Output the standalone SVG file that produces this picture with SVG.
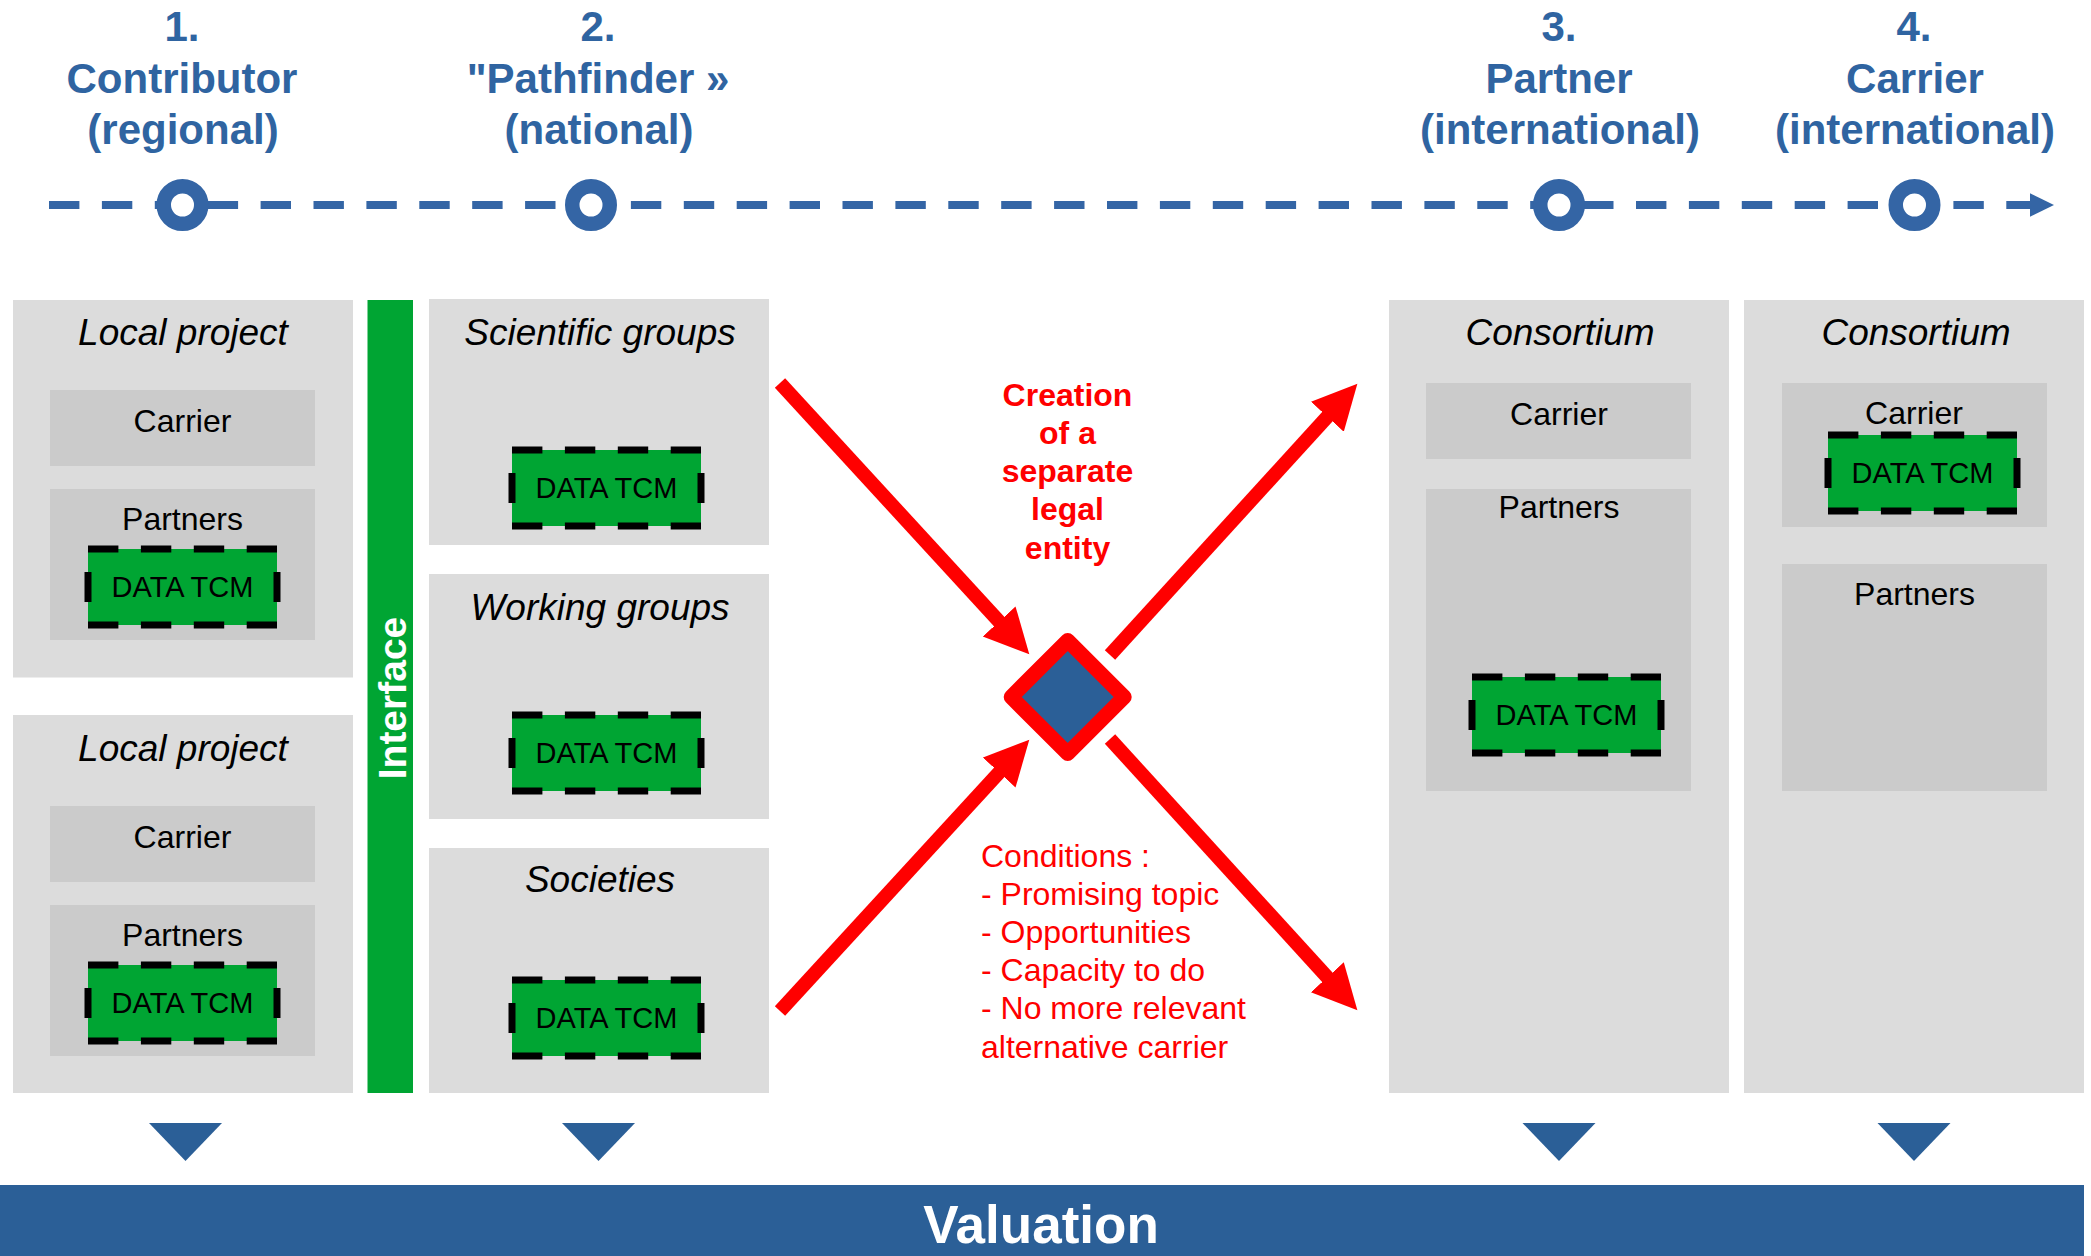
<svg xmlns="http://www.w3.org/2000/svg" xmlns:xlink="http://www.w3.org/1999/xlink" width="2091" height="1256" viewBox="0 0 2091 1256">
<style>
.hdr{font-family:"Liberation Sans",Arial,sans-serif;font-weight:bold;font-size:42px;fill:#2F64A1;text-anchor:middle}
.outer{fill:#DCDCDC}
.inner{fill:#CBCBCB}
.title{font-family:"Liberation Sans",Arial,sans-serif;font-style:italic;font-size:37px;fill:#000;text-anchor:middle}
.lbl{font-family:"Liberation Sans",Arial,sans-serif;font-size:32px;fill:#000;text-anchor:middle}
.dt{font-family:"Liberation Sans",Arial,sans-serif;font-size:29px;fill:#000;text-anchor:middle}
.tl{stroke:#3465A5;stroke-width:8;stroke-dasharray:30.4 22.5;fill:none}
.ring{fill:#fff;stroke:#3465A5;stroke-width:14.5}
.arr{stroke:#FF0000;stroke-width:14;fill:none;marker-end:url(#ah)}
.red{font-family:"Liberation Sans",Arial,sans-serif;font-size:32px;fill:#FF0000}
.redb{font-family:"Liberation Sans",Arial,sans-serif;font-size:32px;font-weight:bold;fill:#FF0000;text-anchor:middle}
.tri{fill:#2B5F97}
</style>
<defs>
<marker id="ah" markerUnits="userSpaceOnUse" markerWidth="48" markerHeight="48" viewBox="0 0 48 48" refX="1" refY="22.25" orient="auto">
<path d="M0,0 L44.6,22.25 L0,44.5 Z" fill="#FF0000"/>
</marker>
<g id="dframe">
<rect x="0" y="0" width="189" height="76" fill="#00A533"/>
<line x1="0" y1="0" x2="189" y2="0" stroke="#000" stroke-width="7" stroke-dasharray="30.4 22.5"/>
<line x1="0" y1="76" x2="189" y2="76" stroke="#000" stroke-width="7" stroke-dasharray="30.4 22.5"/>
<line x1="0" y1="23" x2="0" y2="53" stroke="#000" stroke-width="7"/>
<line x1="189" y1="23" x2="189" y2="53" stroke="#000" stroke-width="7"/>
</g>
</defs>
<rect x="0" y="0" width="2091" height="1256" fill="#fff"/>

<g id="timeline">
<line class="tl" x1="49" y1="205" x2="2036" y2="205"/>
<polygon points="2030,193.3 2054,205 2030,216.7" fill="#3465A5"/>
<circle class="ring" cx="182.5" cy="205" r="18.75"/>
<circle class="ring" cx="591" cy="205" r="18.75"/>
<circle class="ring" cx="1559" cy="205" r="18.75"/>
<circle class="ring" cx="1914.5" cy="205" r="18.75"/>
</g>

<g id="header1">
<text class="hdr" x="182" y="41">1.</text>
<text class="hdr" x="182" y="93">Contributor</text>
<text class="hdr" x="183" y="144">(regional)</text>
</g>
<g id="header2">
<text class="hdr" x="598" y="41">2.</text>
<text class="hdr" x="598" y="93">"Pathfinder »</text>
<text class="hdr" x="599" y="144">(national)</text>
</g>
<g id="header3">
<text class="hdr" x="1559" y="41">3.</text>
<text class="hdr" x="1559" y="93">Partner</text>
<text class="hdr" x="1560" y="144">(international)</text>
</g>
<g id="header4">
<text class="hdr" x="1914" y="41">4.</text>
<text class="hdr" x="1915" y="93">Carrier</text>
<text class="hdr" x="1915" y="144">(international)</text>
</g>

<g id="local1">
<rect class="outer" x="13" y="300" width="340" height="377.5"/>
<text class="title" x="183" y="345">Local project</text>
<rect class="inner" x="50" y="390" width="265" height="76"/>
<text class="lbl" x="182.5" y="432">Carrier</text>
<rect class="inner" x="50" y="489" width="265" height="151"/>
<text class="lbl" x="182.5" y="530">Partners</text>
<use xlink:href="#dframe" x="88" y="549"/>
<text class="dt" x="182.5" y="597">DATA TCM</text>
</g>

<g id="local2">
<rect class="outer" x="13" y="715" width="340" height="378"/>
<text class="title" x="183" y="761">Local project</text>
<rect class="inner" x="50" y="806" width="265" height="76"/>
<text class="lbl" x="182.5" y="848">Carrier</text>
<rect class="inner" x="50" y="905" width="265" height="151"/>
<text class="lbl" x="182.5" y="946">Partners</text>
<use xlink:href="#dframe" x="88" y="965"/>
<text class="dt" x="182.5" y="1013">DATA TCM</text>
</g>

<g id="interface">
<rect x="367.5" y="300" width="45.5" height="793" fill="#00A533"/>
<text transform="translate(405.5,698) rotate(-90)" x="0" y="0" font-family="'Liberation Sans',Arial,sans-serif" font-weight="bold" font-size="39" fill="#fff" text-anchor="middle">Interface</text>
</g>

<g id="scientific">
<rect class="outer" x="429" y="299" width="340" height="246"/>
<text class="title" x="600" y="345">Scientific groups</text>
<use xlink:href="#dframe" x="512" y="450"/>
<text class="dt" x="606.5" y="498">DATA TCM</text>
</g>

<g id="working">
<rect class="outer" x="429" y="574" width="340" height="245"/>
<text class="title" x="600" y="620">Working groups</text>
<use xlink:href="#dframe" x="512" y="715"/>
<text class="dt" x="606.5" y="763">DATA TCM</text>
</g>

<g id="societies">
<rect class="outer" x="429" y="848" width="340" height="245"/>
<text class="title" x="600" y="892">Societies</text>
<use xlink:href="#dframe" x="512" y="980"/>
<text class="dt" x="606.5" y="1028">DATA TCM</text>
</g>

<g id="consortium3">
<rect class="outer" x="1389" y="300" width="340" height="793"/>
<text class="title" x="1560" y="345">Consortium</text>
<rect class="inner" x="1426" y="383" width="265" height="76"/>
<text class="lbl" x="1559" y="425">Carrier</text>
<rect class="inner" x="1426" y="489" width="265" height="302"/>
<text class="lbl" x="1559" y="518">Partners</text>
<use xlink:href="#dframe" x="1472" y="677"/>
<text class="dt" x="1566.5" y="725">DATA TCM</text>
</g>

<g id="consortium4">
<rect class="outer" x="1744" y="300" width="340" height="793"/>
<text class="title" x="1916" y="345">Consortium</text>
<rect class="inner" x="1782" y="383" width="265" height="144"/>
<text class="lbl" x="1914" y="424">Carrier</text>
<use xlink:href="#dframe" x="1828" y="435"/>
<text class="dt" x="1922.5" y="483">DATA TCM</text>
<rect class="inner" x="1782" y="564" width="265" height="227"/>
<text class="lbl" x="1914.5" y="605">Partners</text>
</g>

<g id="entity">
<polygon points="1067.7,640.5 1124.2,697 1067.7,753.5 1011.2,697" fill="#2B5F97" stroke="#FF0000" stroke-width="15" stroke-linejoin="round"/>
</g>

<g id="connectors">
<path class="arr" d="M780,383 L999.8,622.2"/>
<path class="arr" d="M780,1011 L999.8,771.8"/>
<path class="arr" d="M1110,655 L1328,416"/>
<path class="arr" d="M1110,739 L1328,978"/>
</g>

<g id="creation-label">
<text class="redb" x="1067.5" y="405.5">Creation</text>
<text class="redb" x="1067.5" y="443.8">of a</text>
<text class="redb" x="1067.5" y="482.1">separate</text>
<text class="redb" x="1067.5" y="520.4">legal</text>
<text class="redb" x="1067.5" y="558.7">entity</text>
</g>

<g id="conditions">
<text class="red" x="981" y="866.5">Conditions :</text>
<text class="red" x="981" y="904.7">- Promising topic</text>
<text class="red" x="981" y="942.9">- Opportunities</text>
<text class="red" x="981" y="981.1">- Capacity to do</text>
<text class="red" x="981" y="1019.3">- No more relevant</text>
<text class="red" x="981" y="1057.5">alternative carrier</text>
</g>

<g id="down-arrows">
<polygon class="tri" points="149,1123 222,1123 185.5,1161"/>
<polygon class="tri" points="562,1123 635,1123 598.5,1161"/>
<polygon class="tri" points="1522.5,1123 1595.5,1123 1559,1161"/>
<polygon class="tri" points="1877.5,1123 1950.5,1123 1914,1161"/>
</g>

<g id="valuation">
<rect x="0" y="1185" width="2084" height="71" fill="#2B5F97"/>
<text x="1041" y="1243" font-family="'Liberation Sans',Arial,sans-serif" font-weight="bold" font-size="53" fill="#fff" text-anchor="middle">Valuation</text>
</g>
</svg>
